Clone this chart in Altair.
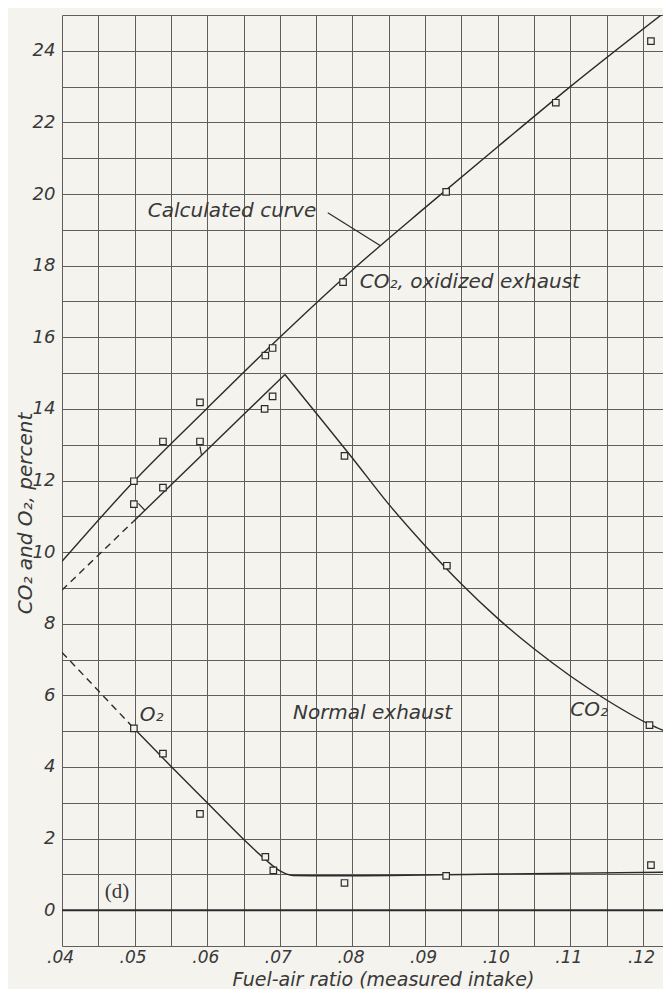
import altair as alt
import pandas as pd

BG = "#f4f3ee"
INK = "#2b2b2b"
TXT = "#383838"
GRID = "#5e5e5e"
FONT = "DejaVu Sans"

# Calculated curve (CO2, oxidized exhaust)
calc_x = [0.040, 0.050, 0.060, 0.070, 0.080, 0.090, 0.100, 0.110, 0.1239]
calc_y = [9.74, 12.00, 14.02, 16.00, 17.88, 19.62, 21.32, 23.00, 25.22]

# CO2, oxidized exhaust (measured)
ox_x = [0.0499, 0.0539, 0.0590, 0.0680, 0.0690, 0.0787, 0.0929, 0.1080, 0.1211]
ox_y = [11.98, 13.09, 14.18, 15.49, 15.70, 17.54, 20.06, 22.55, 24.27]

# CO2, normal exhaust
nco2_dash_x = [0.040, 0.0498]
nco2_dash_y = [8.94, 10.85]
nco2_rise_x = [0.0498, 0.0707]
nco2_rise_y = [10.85, 14.96]
nco2_fall_x = [0.0707, 0.0744, 0.0799, 0.0849, 0.090, 0.095, 0.100, 0.105, 0.110, 0.115, 0.1209, 0.1239]
nco2_fall_y = [14.96, 14.03, 12.65, 11.36, 10.18, 9.11, 8.15, 7.30, 6.54, 5.87, 5.19, 4.93]
nco2_pts_x = [0.0499, 0.0539, 0.0590, 0.0679, 0.0690, 0.0789, 0.0930, 0.1209]
nco2_pts_y = [11.34, 11.80, 13.09, 14.00, 14.35, 12.69, 9.62, 5.17]

# O2, normal exhaust
o2_dash_x = [0.040, 0.0499]
o2_dash_y = [7.20, 5.08]
o2_x = [0.0499, 0.055, 0.060, 0.065, 0.0682, 0.0699, 0.0718, 0.0769, 0.100, 0.1239]
o2_y = [5.08, 4.02, 3.00, 1.98, 1.38, 1.11, 0.97, 0.96, 1.01, 1.06]
o2_pts_x = [0.0499, 0.0539, 0.0590, 0.0680, 0.0691, 0.0789, 0.0929, 0.1211]
o2_pts_y = [5.08, 4.37, 2.69, 1.49, 1.11, 0.76, 0.96, 1.26]

# leader and small flags
seg_x1 = [0.0766, 0.0505, 0.0590]
seg_y1 = [19.48, 11.36, 12.95]
seg_x2 = [0.0838, 0.0514, 0.0592]
seg_y2 = [18.56, 11.17, 12.72]

# annotations
ann_text = ["Calculated curve", "CO\u2082, oxidized exhaust", "Normal exhaust", "CO\u2082", "O\u2082"]
ann_x = [0.0518, 0.0810, 0.0718, 0.1100, 0.0507]
ann_y = [19.53, 17.54, 5.52, 5.58, 5.45]

x_ticks = [round(0.04 + 0.005 * i, 3) for i in range(17)]
y_ticks = list(range(-1, 26))

XDOM = [0.04, 0.12276]
YDOM = [-1, 25]

xaxis = alt.Axis(
    values=x_ticks, grid=True, gridColor=GRID, gridWidth=1, gridOpacity=1,
    domain=False, ticks=False, labelOverlap=False, labelFlush=False,
    labelExpr="(round(datum.value*1000) % 10 == 0) ? replace(format(datum.value, '.2f'), '0.', '.') : ''",
    labelFont=FONT, labelFontSize=17, labelFontStyle="italic", labelColor=TXT,
    labelBaseline="middle", labelPadding=11, labelOffset=-2,
    title="Fuel-air ratio (measured intake)", titleFont=FONT, titleFontSize=19,
    titleFontStyle="italic", titleFontWeight="normal", titleColor=TXT,
    titleX=321, titleY=33, titleBaseline="middle", titleAlign="center",
)
yaxis = alt.Axis(
    values=y_ticks, grid=True, gridColor=GRID, gridWidth=1, gridOpacity=1,
    domain=False, ticks=False, labelOverlap=False,
    labelExpr="(datum.value >= 0 && datum.value % 2 == 0) ? datum.label : ''",
    labelFont=FONT, labelFontSize=18, labelFontStyle="italic", labelColor=TXT,
    labelPadding=7,
    title="CO\u2082 and O\u2082, percent", titleFont=FONT, titleFontSize=20,
    titleFontStyle="italic", titleFontWeight="normal", titleColor=TXT,
    titleX=-37, titleY=498, titleBaseline="middle", titleAlign="center",
)


def X(f="x"):
    return alt.X(f"{f}:Q", scale=alt.Scale(domain=XDOM, nice=False, zero=False), axis=xaxis)


def Y(f="y"):
    return alt.Y(f"{f}:Q", scale=alt.Scale(domain=YDOM, nice=False, zero=False), axis=yaxis)


def df(xs, ys):
    return pd.DataFrame({"x": xs, "y": ys})


def line(xs, ys, dash=None, interp="monotone", clip=True):
    kw = dict(color=INK, strokeWidth=1.4, interpolate=interp, clip=clip)
    if dash:
        kw["strokeDash"] = dash
    return alt.Chart(df(xs, ys)).mark_line(**kw).encode(x=X(), y=Y())


def squares(xs, ys):
    return alt.Chart(df(xs, ys)).mark_square(
        size=42, fill=BG, fillOpacity=1, stroke=INK, strokeWidth=1.2, opacity=1
    ).encode(x=X(), y=Y())


zero = alt.Chart(pd.DataFrame({"y": [0]})).mark_rule(color=INK, strokeWidth=2).encode(y=Y())

segs = alt.Chart(pd.DataFrame({"x": seg_x1, "y": seg_y1, "x2": seg_x2, "y2": seg_y2})).mark_rule(
    color=INK, strokeWidth=1.2
).encode(x=X(), y=Y(), x2="x2:Q", y2="y2:Q")

ann = alt.Chart(pd.DataFrame({"x": ann_x, "y": ann_y, "t": ann_text})).mark_text(
    align="left", baseline="middle", font=FONT, fontSize=20, fontStyle="italic",
    color=TXT
).encode(x=X(), y=Y(), text="t:N")

panel = alt.Chart(pd.DataFrame({"x": [0.0459], "y": [0.51], "t": ["(d)"]})).mark_text(
    align="left", baseline="middle", font="Liberation Serif", fontSize=21, color=TXT
).encode(x=X(), y=Y(), text="t:N")

chart = alt.layer(
    zero,
    line(calc_x, calc_y),
    line(nco2_dash_x, nco2_dash_y, dash=[7, 5], interp="linear"),
    line(nco2_rise_x, nco2_rise_y, interp="linear"),
    line(nco2_fall_x, nco2_fall_y),
    line(o2_dash_x, o2_dash_y, dash=[7, 5], interp="linear"),
    line(o2_x, o2_y),
    segs,
    squares(ox_x, ox_y),
    squares(nco2_pts_x, nco2_pts_y),
    squares(o2_pts_x, o2_pts_y),
    ann,
    panel,
).properties(
    width=601, height=931,
    padding={"left": 54, "top": 7, "right": 0, "bottom": 43},
    autosize=alt.AutoSizeParams(type="none"),
    background=BG,
).configure_view(stroke=None)

chart.save("out.html", embed_options={"renderer": "svg", "actions": False})
